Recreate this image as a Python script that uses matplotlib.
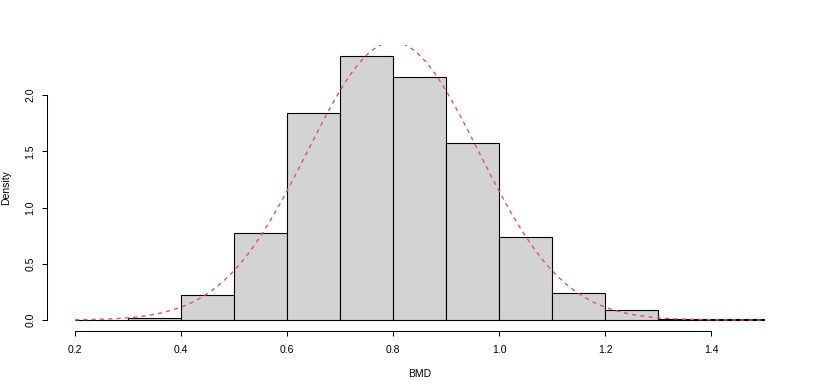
import numpy as np
import matplotlib
matplotlib.use("Agg")
import matplotlib.pyplot as plt

plt.rcParams['font.family'] = ['Liberation Sans', 'DejaVu Sans']

# histogram of BMD (density scale), bins of width 0.1
bin_edges = [0.2, 0.3, 0.4, 0.5, 0.6, 0.7, 0.8, 0.9, 1.0, 1.1, 1.2, 1.3, 1.4, 1.5]
densities = [0.005, 0.02, 0.22, 0.77, 1.84, 2.35, 2.16, 1.57, 0.74, 0.24, 0.09, 0.01, 0.01]

# fitted normal curve
bmd_mean = 0.80
bmd_sd = 0.1615

x_ticks = [0.2, 0.4, 0.6, 0.8, 1.0, 1.2, 1.4]
y_ticks = [0.0, 0.5, 1.0, 1.5, 2.0]

fig = plt.figure(figsize=(8.17, 3.89), dpi=100)
ax = fig.add_axes([0.058, 0.150, 0.911, 0.734])

edges = np.array(bin_edges)
ax.bar(edges[:-1], densities, width=np.diff(edges), align='edge',
       color='#D3D3D3', edgecolor='black', linewidth=0.8)

xs = np.linspace(bin_edges[0], bin_edges[-1], 201)
ys = np.exp(-0.5 * ((xs - bmd_mean) / bmd_sd) ** 2) / (bmd_sd * np.sqrt(2 * np.pi))
ax.plot(xs, ys, color='#DF536B', linestyle=(0, (3, 3)), linewidth=1.0)

ymax = max(densities)
ax.set_xlim(0.2 - 0.052, 1.5 + 0.052)
ax.set_ylim(-0.04 * ymax, 1.04 * ymax)

for s in ['top', 'right']:
    ax.spines[s].set_visible(False)
ax.spines['left'].set_bounds(y_ticks[0], y_ticks[-1])
ax.spines['bottom'].set_bounds(x_ticks[0], x_ticks[-1])
for s in ['left', 'bottom']:
    ax.spines[s].set_linewidth(0.75)

ax.set_xticks(x_ticks)
ax.set_xticklabels([f'{v:.1f}' for v in x_ticks])
ax.set_yticks(y_ticks)
ax.set_yticklabels([f'{v:.1f}' for v in y_ticks], rotation=90, va='center')
ax.tick_params(axis='x', direction='out', length=3.6, width=0.75, labelsize=7.5, pad=7)
ax.tick_params(axis='y', direction='out', length=3.6, width=0.75, labelsize=7.5, pad=5)

ax.set_xlabel('BMD', fontsize=7.5, labelpad=10)
ax.set_ylabel('Density', fontsize=7.5, labelpad=10)

fig.savefig('out.png', dpi=100)
